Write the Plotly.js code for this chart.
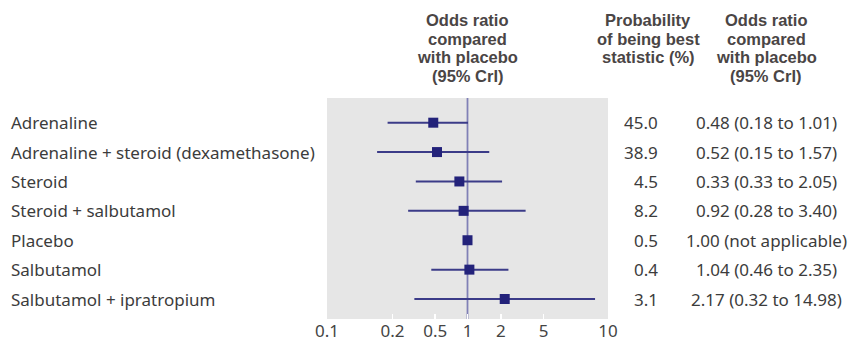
<!DOCTYPE html>
<html>
<head>
<meta charset="utf-8">
<script src="https://cdn.plot.ly/plotly-3.0.1.min.js"></script>
<style>
  html, body { margin: 0; padding: 0; background: #ffffff; }
  #chart { width: 849px; height: 341px; }
</style>
</head>
<body>
<div id="chart"></div>
<script>
// ---------- data ----------
const categories = [
  'Adrenaline',
  'Adrenaline + steroid (dexamethasone)',
  'Steroid',
  'Steroid + salbutamol',
  'Placebo',
  'Salbutamol',
  'Salbutamol + ipratropium'
];
const oddsRatio = [0.48, 0.52, 0.84, 0.92, 1.00, 1.04, 2.17];
const ciLower   = [0.19, 0.17, 0.33, 0.28, null, 0.46, 0.32];
const ciUpper   = [1.01, 1.57, 2.05, 3.40, null, 2.35, 8.7];
const probBest  = ['45.0', '38.9', '4.5', '8.2', '0.5', '0.4', '3.1'];
const orLabels  = [
  '0.48 (0.18 to 1.01)',
  '0.52 (0.15 to 1.57)',
  '0.33 (0.33 to 2.05)',
  '0.92 (0.28 to 3.40)',
  '1.00 (not applicable)',
  '1.04 (0.46 to 2.35)',
  '2.17 (0.32 to 14.98)'
];
const tickValues = [0.1, 0.2, 0.5, 1, 2, 5, 10];
const tickLabels = ['0.1', '0.2', '0.5', '1', '2', '5', '10'];
const header1 = ['Odds ratio', 'compared', 'with placebo', '(95% CrI)'];
const header2 = ['Probability', 'of being best', 'statistic (%)'];
const header3 = ['Odds ratio', 'compared', 'with placebo', '(95% CrI)'];

// ---------- custom axis scale (piecewise log between tick knots) ----------
const SCALE_KNOTS = [-140.4, -75, -32.3, 0, 33.4, 76, 140.4];
function sx(v) {
  if (v === null || v === undefined) return null;
  const t = tickValues;
  let k = 0;
  while (k < t.length - 2 && v > t[k + 1]) k++;
  const f = Math.log(v / t[k]) / Math.log(t[k + 1] / t[k]);
  return SCALE_KNOTS[k] + (SCALE_KNOTS[k + 1] - SCALE_KNOTS[k]) * f;
}

const rows = categories.map((_, i) => i);

// CI segments
const ciX = [], ciY = [];
rows.forEach(i => {
  if (ciLower[i] !== null && ciUpper[i] !== null) {
    ciX.push(sx(ciLower[i]), sx(ciUpper[i]), null);
    ciY.push(i, i, null);
  }
});

const traces = [
  {
    type: 'scatter', mode: 'lines', x: ciX, y: ciY,
    line: { color: '#3b3b88', width: 2 },
    hoverinfo: 'skip', showlegend: false
  },
  {
    type: 'scatter', mode: 'markers',
    x: oddsRatio.map(sx), y: rows,
    marker: { symbol: 'square', size: 10, color: '#23227a', line: { width: 0 } },
    showlegend: false
  }
];

// ---------- layout helpers ----------
const L = 327, R = 607.7, T = 98, B = 319;
const W = R - L, H = B - T;
const px = p => (p - L) / W;   // pixel x -> paper x
const py = p => (B - p) / H;   // pixel y -> paper y

const bodyFont = { family: 'Noto Sans, sans-serif', size: 17, color: '#3c3c3c' };
const headFont = { family: 'Liberation Sans, Arial, sans-serif', size: 16.5, color: '#4a4545', weight: 'bold' };

const annotations = [];
rows.forEach(i => {
  annotations.push({
    xref: 'paper', yref: 'y', x: px(9), y: i, xanchor: 'left', yanchor: 'middle',
    text: categories[i], showarrow: false, font: bodyFont
  });
  annotations.push({
    xref: 'paper', yref: 'y', x: px(660), y: i, xanchor: 'right', yanchor: 'middle',
    text: probBest[i], showarrow: false, font: bodyFont
  });
  annotations.push({
    xref: 'paper', yref: 'y', x: px(766), y: i, xanchor: 'center', yanchor: 'middle',
    text: orLabels[i], showarrow: false, font: bodyFont
  });
});

const headerCols = [
  { x: 467.5, lines: header1 },
  { x: 648, lines: header2 },
  { x: 766, lines: header3 }
];
headerCols.forEach(h => h.lines.forEach((line, j) => annotations.push({
  xref: 'paper', yref: 'paper', x: px(h.x), y: py(20 + 18.7 * j),
  xanchor: 'center', yanchor: 'middle',
  text: '<b>' + line + '</b>', showarrow: false, font: headFont
})));

const layout = {
  width: 849, height: 341,
  margin: { l: L, r: 849 - R, t: T, b: 341 - B, pad: 0 },
  paper_bgcolor: '#ffffff',
  plot_bgcolor: '#e6e6e6',
  xaxis: {
    range: [sx(0.1), sx(10)],
    tickvals: tickValues.map(sx), ticktext: tickLabels,
    ticks: 'inside', ticklen: 5, tickwidth: 1.5, tickcolor: '#ffffff',
    showgrid: false, zeroline: false, showline: false,
    tickfont: { family: 'Noto Sans, sans-serif', size: 17, color: '#444444' },
    fixedrange: true
  },
  yaxis: {
    range: [6.68, -0.84],
    showgrid: false, zeroline: false, showline: false,
    showticklabels: false, ticks: '', fixedrange: true
  },
  shapes: [{
    type: 'line', xref: 'x', yref: 'paper', x0: sx(1), x1: sx(1), y0: 0, y1: 1,
    line: { color: '#8080b6', width: 1.8 }, layer: 'below'
  }],
  annotations: annotations
};

Plotly.newPlot('chart', traces, layout, { displayModeBar: false, staticPlot: true });
</script>
</body>
</html>
